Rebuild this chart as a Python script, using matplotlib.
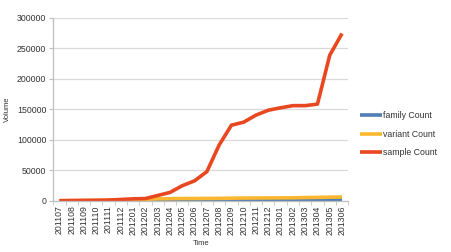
import matplotlib.pyplot as plt
import numpy as np

months = ['201107', '201108', '201109', '201110', '201111', '201112',
          '201201', '201202', '201203', '201204', '201205', '201206',
          '201207', '201208', '201209', '201210', '201211', '201212',
          '201301', '201302', '201303', '201304', '201305', '201306']
family = [50, 100, 150, 200, 300, 400, 500, 600, 700, 800, 900, 1000,
          1100, 1200, 1500, 1700, 1800, 1900, 2000, 2100, 2400, 2600, 2800, 3000]
variant = [300, 500, 700, 900, 1100, 1500, 2000, 2800, 3500, 3800, 4000, 4100,
           4200, 4300, 4600, 4800, 4900, 5000, 5100, 5200, 5600, 5900, 6200, 6500]
sample = [500, 800, 1000, 1200, 1500, 2500, 3500, 4000, 9000, 14000, 25000, 33000,
          48000, 91500, 124000, 129000, 140500, 148500, 152500, 156000, 156000,
          158500, 238500, 274000]

plt.rcParams['font.family'] = ['Liberation Sans', 'DejaVu Sans']

fig = plt.figure(figsize=(4.51, 2.52), dpi=100)
ax = fig.add_axes([0.118, 0.2024, 0.654, 0.7276])

x = np.arange(len(months))
ax.plot(x, family, color='#4F7FB3', lw=2.6, label='family Count', solid_capstyle='butt')
ax.plot(x, variant, color='#FBB730', lw=2.6, label='variant Count', solid_capstyle='butt')
ax.plot(x, sample, color='#E8471F', lw=2.6, label='sample Count', solid_capstyle='butt')

ax.set_xlim(-0.5, len(months) - 0.5)
ax.set_ylim(0, 300000)
ax.set_yticks(np.arange(0, 300001, 50000))
ax.yaxis.grid(True, color='#D9D9D9', lw=0.9)
ax.set_axisbelow(True)

# labels at category centres, tick marks at category boundaries
ax.set_xticks(x)
ax.set_xticklabels(months, rotation=90, fontsize=6.3, color='#333333')
ax.set_xticks(np.arange(-0.5, len(months), 1), minor=True)
ax.tick_params(axis='x', which='major', length=0, pad=3)
ax.tick_params(axis='x', which='minor', length=3, color='#BFBFBF')
ax.tick_params(axis='y', labelsize=6.3, labelcolor='#333333', length=3, color='#BFBFBF', pad=2)

for s in ['top', 'right']:
    ax.spines[s].set_visible(False)
for s in ['left', 'bottom']:
    ax.spines[s].set_color('#BFBFBF')
    ax.spines[s].set_linewidth(0.9)

ax.set_xlabel('Time', fontsize=5.5, color='#333333', labelpad=4)
ax.set_ylabel('Volume', fontsize=5.5, color='#333333', labelpad=4)

fig.legend(loc='center left', bbox_to_anchor=(0.798, 0.468), frameon=False,
           fontsize=6.3, handlelength=2.5, handletextpad=0.1, labelspacing=1.1,
           borderpad=0, borderaxespad=0, labelcolor='#333333')

fig.savefig('out.png', dpi=100)
